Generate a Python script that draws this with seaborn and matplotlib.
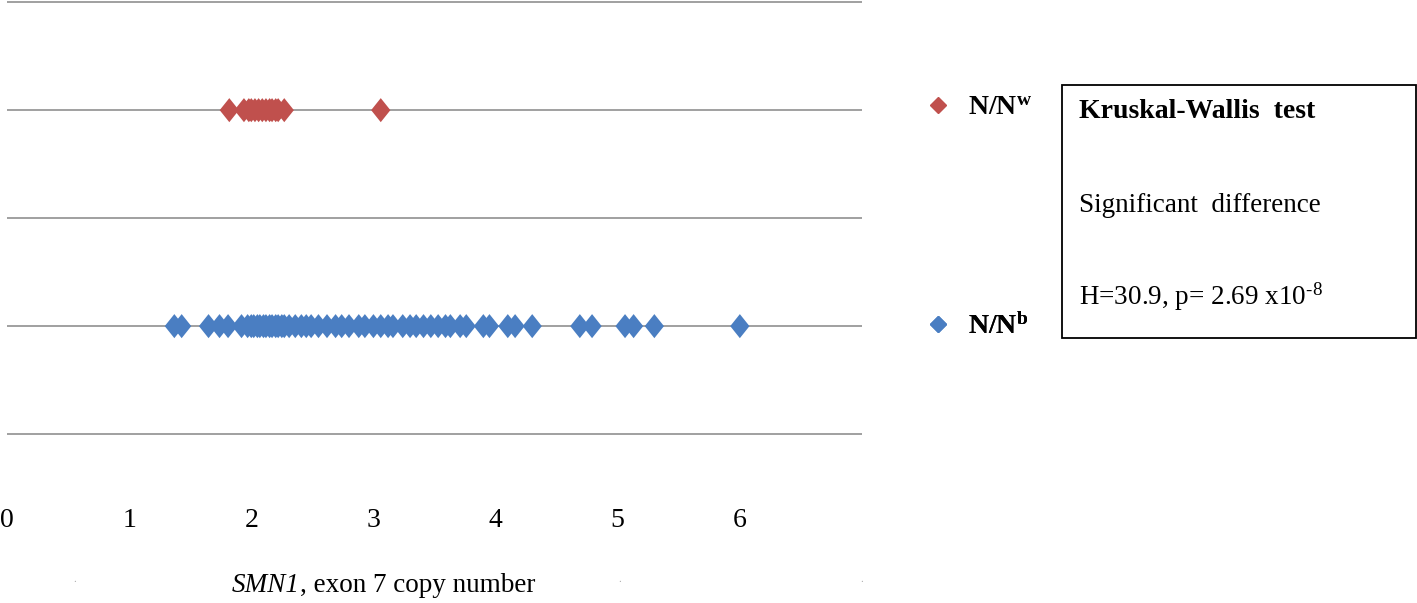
import pandas as pd
import matplotlib.pyplot as plt
import seaborn as sns
from matplotlib.lines import Line2D
from matplotlib.patches import Rectangle
from matplotlib.path import Path

# SMN1 exon 7 copy numbers
nnw_values = [1.82, 1.94, 1.98, 2.00, 2.03, 2.06, 2.09, 2.12, 2.15, 2.17, 2.20, 2.22, 2.27, 3.06]
nnb_values = [1.37, 1.43, 1.65, 1.74, 1.81, 1.92, 1.97, 2.00, 2.02, 2.05, 2.07, 2.10, 2.12,
              2.15, 2.17, 2.20, 2.22, 2.25, 2.27, 2.31, 2.36, 2.41, 2.45, 2.49, 2.55, 2.62,
              2.69, 2.74, 2.80, 2.88, 2.93, 3.00, 3.06, 3.12, 3.16, 3.24, 3.30, 3.35, 3.41,
              3.47, 3.53, 3.59, 3.63, 3.71, 3.76, 3.90, 3.95, 4.10, 4.16, 4.30, 4.69, 4.79,
              5.06, 5.13, 5.30, 6.00]
groups = ['N/Nw', 'N/Nb']
group_rows = [4, 2]
group_colors = ['#C0504D', '#4A7EC2']
legend_labels = [r'$\mathbf{N/N^{w}}$', r'$\mathbf{N/N^{b}}$']
x_ticks = [0, 1, 2, 3, 4, 5, 6]
box_lines = ['Kruskal-Wallis  test', 'Significant  difference',
             r'H=30.9, p= 2.69 x10$^{\text{-}8}$']

df = pd.DataFrame({
    'copy_number': nnw_values + nnb_values,
    'group': ['N/Nw'] * len(nnw_values) + ['N/Nb'] * len(nnb_values),
})
df['row'] = df['group'].map(dict(zip(groups, group_rows)))

sns.set_theme(style='white')
plt.rcParams['font.family'] = ['Liberation Serif', 'DejaVu Serif']
plt.rcParams['text.color'] = 'black'
plt.rcParams['xtick.color'] = 'black'
plt.rcParams['axes.labelcolor'] = 'black'
plt.rcParams['mathtext.fontset'] = 'custom'
plt.rcParams['mathtext.rm'] = 'Liberation Serif'
plt.rcParams['mathtext.it'] = 'Liberation Serif:italic'
plt.rcParams['mathtext.bf'] = 'Liberation Serif:bold'

# slightly tall diamond, like the Excel marker
diamond = Path([(0, 1), (0.8, 0), (0, -1), (-0.8, 0), (0, 1)],
               [Path.MOVETO, Path.LINETO, Path.LINETO, Path.LINETO, Path.CLOSEPOLY])

W, H = 1417, 603
fig = plt.figure(figsize=(W / 100, H / 100), dpi=100)
ax = fig.add_axes([7 / W, 1 - 500 / H, 855 / W, 500 / H])

sns.scatterplot(data=df, x='copy_number', y='row', hue='group',
                palette=dict(zip(groups, group_colors)), marker=diamond, s=300,
                linewidth=0, legend=False, ax=ax, zorder=3)

ax.set_xlim(0, 7)
ax.set_ylim(0.39, 5.02)
ax.set_yticks([1, 2, 3, 4, 5])
ax.set_yticklabels([])
ax.grid(axis='y', color='#868686', linewidth=1.1)
ax.grid(axis='x', visible=False)
sns.despine(ax=ax, left=True, bottom=True)
ax.set_xticks(x_ticks)
ax.tick_params(axis='x', length=0, pad=6, labelsize=20)
ax.tick_params(axis='y', length=0)
ax.set_ylabel('')

# x label: italic gene name followed by plain text
xlab = ax.set_xlabel('SMN1', fontsize=19.5, style='italic')
xlab.set_horizontalalignment('left')
ax.xaxis.set_label_coords((232 - 7) / 855, -0.145)
ax.annotate(', exon 7 copy number', xy=(1, 0), xycoords=xlab, va='bottom',
            fontsize=19.5, annotation_clip=False)

# legend entries, placed next to their rows
for label, color, ypx in zip(legend_labels, group_colors, [108, 327]):
    leg = ax.legend(handles=[Line2D([], [], marker='D', ls='', color=color, markersize=8)],
                    labels=[label], loc='center left',
                    bbox_to_anchor=(924 / W, 1 - ypx / H), bbox_transform=fig.transFigure,
                    frameon=False, fontsize=20, borderpad=0, borderaxespad=0,
                    handlelength=1, handletextpad=0.6)
    ax.add_artist(leg)

# statistics box
fig.add_artist(Rectangle((1062 / W, 1 - 338 / H), 354 / W, 253 / H, transform=fig.transFigure,
                         fill=False, edgecolor='black', linewidth=1.3))
fig.text(1079 / W, 1 - 112 / H, box_lines[0], fontsize=20, weight='bold', va='center')
fig.text(1079 / W, 1 - 206 / H, box_lines[1], fontsize=19.5, va='center')
fig.text(1079 / W, 1 - 297 / H, box_lines[2], fontsize=19.5, va='center')

# faint specks under the axis
for xpx in [75, 620, 862]:
    fig.text(xpx / W, 1 - 580 / H, '.', fontsize=8, color='#aaaaaa', ha='center', va='center')

fig.savefig('out.png', dpi=100)
